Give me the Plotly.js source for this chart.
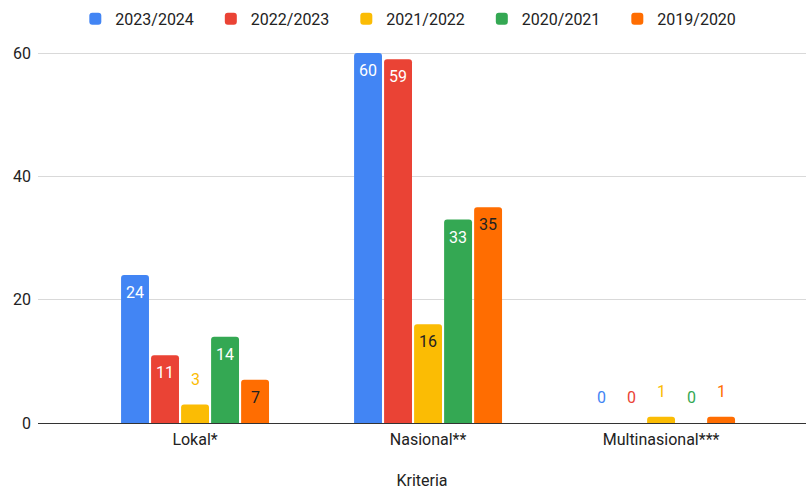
<!DOCTYPE html>
<html>
<head>
<meta charset="utf-8">
<script src="https://cdn.plot.ly/plotly-3.0.1.min.js"></script>
<style>html,body{margin:0;padding:0;background:#fff}#chart{width:806px;height:490px}</style>
</head>
<body>
<div id="chart"></div>
<script>
const categories = ['Lokal*', 'Nasional**', 'Multinasional***'];
const seriesNames = ['2023/2024', '2022/2023', '2021/2022', '2020/2021', '2019/2020'];
const v2023_2024 = [24, 60, 0];
const v2022_2023 = [11, 59, 0];
const v2021_2022 = [3, 16, 1];
const v2020_2021 = [14, 33, 0];
const v2019_2020 = [7, 35, 1];
const yTicks = [0, 20, 40, 60];
const xTitle = 'Kriteria';

const seriesValues = [v2023_2024, v2022_2023, v2021_2022, v2020_2021, v2019_2020];
const colors = ['#4285F4', '#EA4335', '#FBBC04', '#34A853', '#FF6D01'];
const insideTextColors = ['#ffffff', '#ffffff', '#222222', '#ffffff', '#222222'];
const FONT = 'Roboto, Arial, sans-serif';
const bargap = 0.356;
const insideMin = 5;

const traces = seriesNames.map((name, i) => ({
  type: 'bar',
  name: name,
  x: categories,
  y: seriesValues[i],
  marker: {color: colors[i], cornerradius: 3},
  hoverinfo: 'x+y+name'
}));

const slot = (1 - bargap) / seriesNames.length;
const annotations = [];
seriesValues.forEach((vals, i) => {
  vals.forEach((v, c) => {
    const inside = v >= insideMin;
    annotations.push({
      x: c + (i - (seriesNames.length - 1) / 2) * slot,
      y: v,
      xref: 'x', yref: 'y',
      text: String(v),
      showarrow: false,
      yanchor: inside ? 'top' : 'bottom',
      yshift: inside ? -6 : 14,
      font: {family: FONT, size: 16, color: inside ? insideTextColors[i] : colors[i]}
    });
  });
});

const layout = {
  width: 806, height: 490,
  margin: {l: 38, r: 0, t: 50, b: 67},
  paper_bgcolor: '#fff', plot_bgcolor: '#fff',
  font: {family: FONT, size: 16, color: '#222'},
  barmode: 'group',
  bargap: bargap,
  bargroupgap: 0.07,
  showlegend: true,
  legend: {
    orientation: 'h', xref: 'paper', x: 0.490, xanchor: 'center',
    yref: 'container', y: 0.996, yanchor: 'top',
    font: {family: FONT, size: 16, color: '#222'},
    entrywidth: 90.5, entrywidthmode: 'pixels',
    traceorder: 'normal'
  },
  xaxis: {
    type: 'category',
    range: [-0.674, 2.622],
    showgrid: false, zeroline: false, showline: false,
    ticks: '',
    ticklabelstandoff: 5,
    tickfont: {family: FONT, size: 16, color: '#222'},
    title: {text: xTitle, standoff: 28, font: {family: FONT, size: 16, color: '#222'}}
  },
  yaxis: {
    range: [0, 60.5],
    tickvals: yTicks,
    ticktext: yTicks.map(String),
    showgrid: true, gridcolor: '#d9d9d9', gridwidth: 1,
    zeroline: true, zerolinecolor: '#333', zerolinewidth: 1,
    showline: false, ticks: '',
    ticklabelstandoff: 6,
    tickfont: {family: FONT, size: 16, color: '#222'}
  },
  annotations: annotations
};

Plotly.newPlot('chart', traces, layout, {displayModeBar: false, staticPlot: true});
</script>
</body>
</html>
